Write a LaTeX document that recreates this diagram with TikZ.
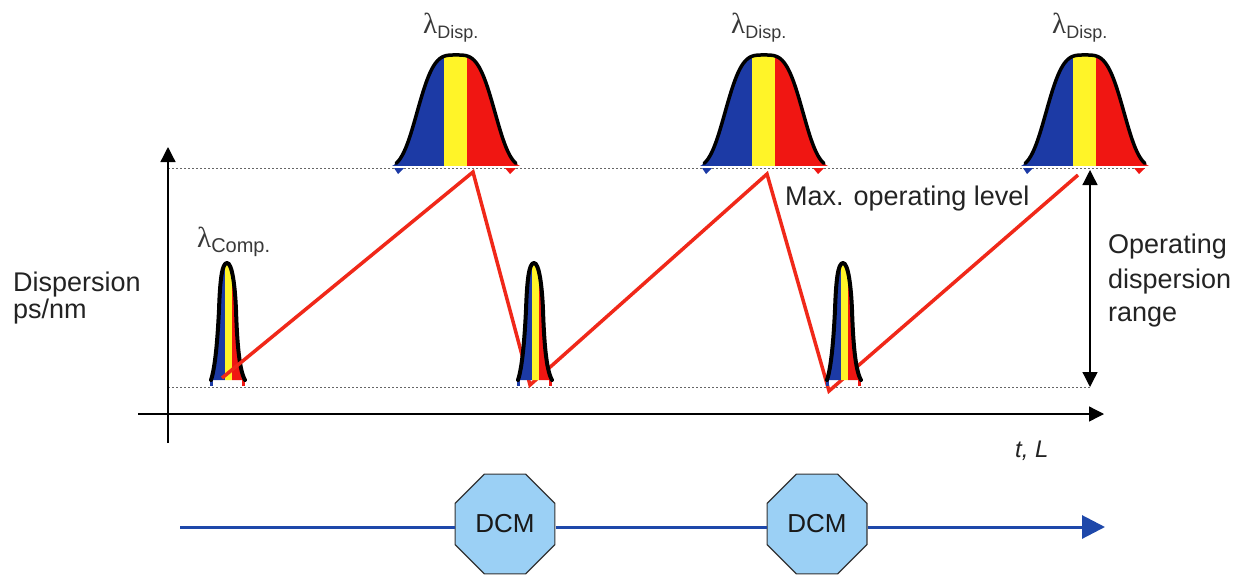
\documentclass[tikz,border=0pt]{standalone}
\usepackage{fontspec}
\setmainfont{Liberation Sans}
\newfontfamily\lamfont{Liberation Serif}
\usetikzlibrary{arrows.meta,shapes.geometric}
\definecolor{pblue}{RGB}{28,58,165}
\definecolor{pyellow}{RGB}{255,244,40}
\definecolor{pred}{RGB}{240,22,18}
\definecolor{sawred}{RGB}{240,40,25}
\definecolor{dcmfill}{RGB}{155,208,245}
\definecolor{lineblue}{RGB}{30,72,170}
\definecolor{txt}{RGB}{35,35,35}
\newcommand\lamlab[2]{{\lamfont\fontsize{29}{30}\selectfont λ}\raisebox{-5pt}{\fontsize{#2}{20}\selectfont #1}}
\newcommand\bigpulse[2]{%
  \begin{scope}
    \clip plot[domain=-64:64,samples=90] ({#1+\x},{168-113*exp(-1*pow(abs(\x)/43,3.5))}) -- cycle;
    \fill[pblue] (#1-70,40) rectangle (#1-12,171);
    \fill[pyellow] (#1-12,40) rectangle (#1+11,171);
    \fill[pred] (#1+11,40) rectangle (#1+70,171);
  \end{scope}
  \fill[pblue] (#1-62,168) -- (#1-52,168) -- (#1-58,174) -- cycle;
  \fill[pred] (#1+49,168) -- (#1+60,168) -- (#1+54,174) -- cycle;
  \draw[line width=3.5pt,line join=round,line cap=round] plot[domain=-60:60,samples=90] ({#1+\x},{168-113*exp(-1*pow(abs(\x)/43,3.5))});
  \node[lam,anchor=base west] (#2) at (#1-33,33) {\lamlab{Disp.}{18}};
}
\newcommand\smallpulse[1]{%
  \begin{scope}
    \clip (#1-15,380) .. controls (#1-10,365) and (#1-8,330) .. (#1-7,310) .. controls (#1-6,280) and (#1-4,263) .. (#1+1,263) .. controls (#1+6,263) and (#1+9,285) .. (#1+10,310) .. controls (#1+11,340) and (#1+13,370) .. (#1+19,380) -- cycle;
    \fill[pblue] (#1-20,255) rectangle (#1-1,381);
    \fill[pyellow] (#1-1,255) rectangle (#1+6,381);
    \fill[pred] (#1+6,255) rectangle (#1+25,381);
  \end{scope}
  \fill[pblue] (#1-16,379) rectangle (#1-13,386);
  \fill[pred] (#1+16,379) rectangle (#1+19,386);
  \draw[line width=4pt,line join=round,line cap=round] (#1-15,380) .. controls (#1-10,365) and (#1-8,330) .. (#1-7,310) .. controls (#1-6,280) and (#1-4,263) .. (#1+1,263) .. controls (#1+6,263) and (#1+9,285) .. (#1+10,310) .. controls (#1+11,340) and (#1+13,370) .. (#1+19,380);
}
\begin{document}
\begin{tikzpicture}[x=1pt,y=-1pt,
  lbl/.style={font=\fontsize{27}{30}\selectfont,text=txt,inner sep=0pt},
  lam/.style={text=txt!90,inner sep=0pt},
  dotline/.style={dash pattern=on 2pt off 2pt,line width=1pt,black!60},
  axis/.style={line width=1.3pt,-{Triangle[length=15pt,width=15pt]}},
  dcm/.style={regular polygon,regular polygon sides=8,minimum size=108pt,inner sep=0pt,
    draw=black!80,line width=1.2pt,fill=dcmfill,font=\fontsize{26}{28}\selectfont,text=black!90},
  fibre/.style={lineblue,line width=3pt}]
\useasboundingbox (0,0) rectangle (1238,581);

% dotted levels
\coordinate (tl) at (168,168);
\coordinate (tr) at (1145,168);
\coordinate (bl) at (168,387);
\coordinate (br) at (1090,387);
\draw[dotline] (tl) -- (tr);
\draw[dotline] (bl) -- (br);

% axes
\coordinate (ya) at (168,443);
\coordinate (yb) at (168,147);
\coordinate (xa) at (138,414);
\coordinate (xb) at (1104,414);
\draw[axis] (ya) -- (yb);
\draw[axis] (xa) -- (xb);

% big pulses
\bigpulse{456}{ld1}
\bigpulse{764}{ld2}
\bigpulse{1085}{ld3}

% small pulse 1
\smallpulse{226}

% sawtooth
\coordinate (s0) at (222,378);
\coordinate (s1) at (473,172);
\coordinate (s2) at (530,385);
\coordinate (s3) at (767,174);
\coordinate (s4) at (829,391);
\coordinate (s5) at (1078,175);
\draw[sawred,line width=3.5pt,line join=miter] (s0) -- (s1) -- (s2) -- (s3) -- (s4) -- (s5);

\smallpulse{533}
\smallpulse{842}

% range arrow
\coordinate (ra) at (1090,170);
\coordinate (rb) at (1090,387);
\draw[line width=1.3pt,{Triangle[length=15pt,width=15pt]}-{Triangle[length=15pt,width=15pt]}] (ra) -- (rb);

% labels
\node[lam,anchor=base west] (lc) at (197,247) {\lamlab{Comp.}{20}};
\node[lbl,anchor=base west] (maxl) at (785,205) {Max. operating level};
\node[lbl,anchor=base west] (op1) at (1108,253) {Operating};
\node[lbl,anchor=base west] (op2) at (1108,288) {dispersion};
\node[lbl,anchor=base west] (op3) at (1108,321) {range};
\node[lbl,anchor=base west] (dp1) at (13,291) {Dispersion};
\node[lbl,anchor=base west] (dp2) at (13,318) {ps/nm};
\node[lbl,anchor=base west,font=\fontsize{24}{26}\selectfont\itshape] (tL) at (1015,457) {t, L};

% fibre line with DCMs
\node[dcm] (dcm1) at (505,524) {DCM};
\node[dcm] (dcm2) at (817,524) {DCM};
\coordinate (fs) at (180,527);
\coordinate (fe) at (1105,527);
\draw[fibre] (fs) -- (fs -| dcm1.west);
\draw[fibre] (dcm1.east |- fs) -- (dcm2.west |- fs);
\draw[fibre,-{Triangle[length=23pt,width=23pt]}] (dcm2.east |- fs) -- (fe);
\end{tikzpicture}
\end{document}
